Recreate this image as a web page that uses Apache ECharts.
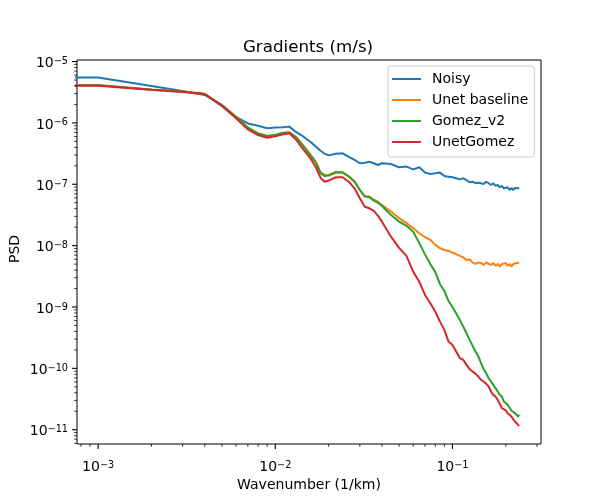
<!DOCTYPE html>
<html>
<head>
<meta charset="utf-8">
<title>Gradients (m/s)</title>
<script src="https://cdn.jsdelivr.net/npm/echarts@6/dist/echarts.min.js"></script>
<style>
html, body { margin: 0; padding: 0; background: #fff; }
#main { width: 600px; height: 500px; }
</style>
</head>
<body>
<div id="main"></div>
<script>
// wavenumber (1/km), shared by all four curves
var wavenumber = [0.0005, 0.001, 0.002, 0.003, 0.004, 0.005, 0.006, 0.007, 0.008, 0.009,
    0.010, 0.011, 0.012, 0.013, 0.014, 0.015, 0.016, 0.017, 0.018, 0.019,
    0.020, 0.022, 0.024, 0.026, 0.028, 0.030, 0.032, 0.034, 0.036, 0.038,
    0.040, 0.045, 0.050, 0.055, 0.060, 0.065, 0.070, 0.075, 0.080, 0.085,
    0.090, 0.095, 0.100, 0.105, 0.110, 0.115, 0.120, 0.125, 0.130, 0.135,
    0.140, 0.145, 0.150, 0.155, 0.160, 0.165, 0.170, 0.175, 0.180, 0.185,
    0.190, 0.195, 0.200, 0.205, 0.210, 0.215, 0.220, 0.225, 0.230, 0.235, 0.238];

var noisy = [5.5e-6, 5.5e-6, 4.0e-6, 3.31e-6, 2.85e-6, 1.96e-6, 1.26e-6, 9.8e-7, 9.0e-7, 8.2e-7,
    8.4e-7, 8.5e-7, 8.7e-7, 7.2e-7, 6.35e-7, 5.47e-7, 4.76e-7, 4.1e-7, 3.52e-7, 3.15e-7,
    2.96e-7, 3.15e-7, 3.2e-7, 2.8e-7, 2.5e-7, 2.2e-7, 2.25e-7, 2.33e-7, 2.2e-7, 2.06e-7,
    2.2e-7, 2.14e-7, 1.89e-7, 1.94e-7, 1.75e-7, 1.89e-7, 1.55e-7, 1.47e-7, 1.51e-7, 1.55e-7,
    1.36e-7, 1.33e-7, 1.3e-7, 1.25e-7, 1.2e-7, 1.25e-7, 1.17e-7, 1.08e-7, 1.1e-7, 1.04e-7,
    1.06e-7, 1.04e-7, 1.01e-7, 1.1e-7, 1.04e-7, 9.75e-8, 1.04e-7, 9.4e-8, 9.75e-8, 8.93e-8,
    9.4e-8, 8.6e-8, 8.3e-8, 8.93e-8, 8.07e-8, 8.7e-8, 8.07e-8, 8.7e-8, 8.3e-8, 8.6e-8, 8.7e-8];

var unetBaseline = [4.15e-6, 4.15e-6, 3.5e-6, 3.24e-6, 2.98e-6, 1.94e-6, 1.26e-6, 8.4e-7, 6.75e-7, 6.15e-7,
    6.4e-7, 6.9e-7, 7.05e-7, 6.0e-7, 4.7e-7, 3.68e-7, 2.88e-7, 2.3e-7, 1.57e-7, 1.42e-7,
    1.42e-7, 1.6e-7, 1.57e-7, 1.36e-7, 1.12e-7, 8.2e-8, 6.4e-8, 6.3e-8, 5.6e-8, 5.2e-8,
    4.6e-8, 3.6e-8, 2.8e-8, 2.33e-8, 1.93e-8, 1.58e-8, 1.37e-8, 1.24e-8, 1.03e-8, 9.1e-9,
    8.5e-9, 8.2e-9, 7.7e-9, 7.3e-9, 6.8e-9, 6.47e-9, 5.85e-9, 5.95e-9, 5.28e-9, 5.04e-9,
    5.34e-9, 5.2e-9, 4.85e-9, 5.34e-9, 5.04e-9, 4.85e-9, 5.2e-9, 4.67e-9, 5.04e-9, 4.55e-9,
    5.0e-9, 4.74e-9, 5.2e-9, 4.67e-9, 5.04e-9, 4.55e-9, 5.0e-9, 4.67e-9, 5.2e-9, 5.34e-9, 5.28e-9];

var gomezV2 = [4.1e-6, 4.1e-6, 3.48e-6, 3.22e-6, 2.96e-6, 1.93e-6, 1.25e-6, 8.36e-7, 6.7e-7, 6.1e-7,
    6.35e-7, 6.85e-7, 7.0e-7, 5.95e-7, 4.65e-7, 3.63e-7, 2.83e-7, 2.2e-7, 1.52e-7, 1.36e-7,
    1.39e-7, 1.55e-7, 1.55e-7, 1.33e-7, 1.1e-7, 8.07e-8, 6.3e-8, 6.14e-8, 5.4e-8, 5.0e-8,
    4.43e-8, 3.16e-8, 2.46e-8, 2.1e-8, 1.69e-8, 1.1e-8, 7.2e-9, 5.0e-9, 3.7e-9, 2.35e-9,
    1.83e-9, 1.25e-9, 1.0e-9, 7.8e-10, 6.17e-10, 4.8e-10, 3.74e-10, 2.91e-10, 2.32e-10, 1.88e-10,
    1.56e-10, 1.22e-10, 9.7e-11, 8.35e-11, 6.9e-11, 6.1e-11, 5.38e-11, 4.76e-11, 4.19e-11, 3.7e-11,
    3.47e-11, 2.88e-11, 2.95e-11, 2.55e-11, 2.4e-11, 2.06e-11, 2.16e-11, 1.86e-11, 1.98e-11, 1.64e-11, 1.76e-11];

var unetGomez = [4.05e-6, 4.05e-6, 3.46e-6, 3.2e-6, 2.95e-6, 1.88e-6, 1.19e-6, 7.87e-7, 6.35e-7, 5.74e-7,
    6.05e-7, 6.5e-7, 6.78e-7, 5.47e-7, 4.1e-7, 3.2e-7, 2.49e-7, 1.86e-7, 1.28e-7, 1.1e-7,
    1.15e-7, 1.3e-7, 1.3e-7, 1.1e-7, 8.6e-8, 5.9e-8, 4.3e-8, 4.06e-8, 3.7e-8, 3.05e-8,
    2.46e-8, 1.4e-8, 9.2e-9, 6.8e-9, 3.77e-9, 2.57e-9, 1.57e-9, 1.15e-9, 8.4e-10, 5.78e-10,
    4.24e-10, 2.73e-10, 2.41e-10, 1.88e-10, 1.47e-10, 1.38e-10, 1.14e-10, 9.7e-11, 8.87e-11, 8.13e-11,
    7.35e-11, 6.5e-11, 6.1e-11, 5.6e-11, 5.06e-11, 4.19e-11, 3.7e-11, 3.47e-11, 3.07e-11, 2.64e-11,
    2.25e-11, 2.4e-11, 2.06e-11, 1.86e-11, 1.98e-11, 1.64e-11, 1.49e-11, 1.36e-11, 1.31e-11, 1.2e-11, 1.15e-11];

var seriesNames = ['Noisy', 'Unet baseline', 'Gomez_v2', 'UnetGomez'];
var seriesColors = ['#1f77b4', '#ff7f0e', '#2ca02c', '#d62728'];

// axis limits and ticks (log axes)
var xMin = 7.6e-4, xMax = 0.316;
var yMin = 5.85e-12, yMax = 1.06e-5;
var xMajorTicks = [1e-3, 1e-2, 1e-1];
var yMajorTicks = [1e-11, 1e-10, 1e-9, 1e-8, 1e-7, 1e-6, 1e-5];
var minorSteps = [2, 3, 4, 5, 6, 7, 8, 9];

var FONT = 'DejaVu Sans';

function minorTicks(decades, lo, hi) {
    var out = [];
    decades.forEach(function (d) {
        minorSteps.forEach(function (m) {
            var v = m * d;
            if (v >= lo && v <= hi) out.push(v);
        });
    });
    return out;
}
var xMinorTicks = minorTicks([1e-4, 1e-3, 1e-2, 1e-1], xMin, xMax);
var yMinorTicks = minorTicks([1e-12, 1e-11, 1e-10, 1e-9, 1e-8, 1e-7, 1e-6, 1e-5], yMin, yMax);

function pairs(xs, ys) {
    var out = [];
    for (var i = 0; i < xs.length; i++) out.push([xs[i], ys[i]]);
    return out;
}

var labelRich = {
    b: { fontSize: 14, fontFamily: FONT, lineHeight: 14, verticalAlign: 'bottom', fill: '#000' },
    s: { fontSize: 9.7, fontFamily: FONT, lineHeight: 10, padding: [0, 0, 8, 0], verticalAlign: 'top', fill: '#000' }
};
function powLabel(v) {
    var e = Math.round(Math.log10(v));
    return '{b|10}{s|' + (e < 0 ? '\u2212' : '') + Math.abs(e) + '}';
}

// tick marks + labels drawn outside the frame, matplotlib style
function xTickItem(params, api) {
    var p = api.coord([api.value(0), yMin]);
    var major = api.value(1) === 1;
    var len = major ? 4.9 : 2.8;
    var kids = [{
        type: 'line',
        shape: { x1: p[0], y1: p[1], x2: p[0], y2: p[1] + len },
        style: { stroke: '#000', lineWidth: major ? 1.1 : 0.8 }
    }];
    if (major) {
        kids.push({
            type: 'text', x: p[0], y: p[1] + 16,
            style: { text: powLabel(api.value(0)), rich: labelRich, align: 'center', verticalAlign: 'top', fill: '#000' }
        });
    }
    return { type: 'group', children: kids };
}
function yTickItem(params, api) {
    var p = api.coord([xMin, api.value(0)]);
    var major = api.value(1) === 1;
    var len = major ? 4.9 : 2.8;
    var kids = [{
        type: 'line',
        shape: { x1: p[0] - len, y1: p[1], x2: p[0], y2: p[1] },
        style: { stroke: '#000', lineWidth: major ? 1.1 : 0.8 }
    }];
    if (major) {
        kids.push({
            type: 'text', x: p[0] - 9, y: p[1] + 2,
            style: { text: powLabel(api.value(0)), rich: labelRich, align: 'right', verticalAlign: 'middle', fill: '#000' }
        });
    }
    return { type: 'group', children: kids };
}

var myChart = echarts.init(document.getElementById('main'), null, { renderer: 'canvas' });

var series = [];
for (var i = 0; i < seriesNames.length; i++) {
    series.push({
        name: seriesNames[i],
        type: 'line',
        data: pairs(wavenumber, [noisy, unetBaseline, gomezV2, unetGomez][i]),
        symbol: 'none',
        showSymbol: false,
        clip: true,
        color: seriesColors[i],
        lineStyle: { width: 2, color: seriesColors[i] },
        z: 2 + i
    });
}
series.push({
    name: 'xticks',
    type: 'custom',
    renderItem: xTickItem,
    data: xMajorTicks.map(function (v) { return [v, 1]; }).concat(xMinorTicks.map(function (v) { return [v, 0]; })),
    encode: { x: 0 },
    clip: false,
    silent: true,
    z: 10
});
series.push({
    name: 'yticks',
    type: 'custom',
    renderItem: yTickItem,
    data: yMajorTicks.map(function (v) { return [v, 1]; }).concat(yMinorTicks.map(function (v) { return [v, 0]; })),
    encode: { y: 0 },
    clip: false,
    silent: true,
    z: 10
});

var option = {
    animation: false,
    backgroundColor: '#fff',
    title: {
        text: 'Gradients (m/s)',
        left: 308,
        top: 39,
        padding: 0,
        textAlign: 'center',
        textStyle: { fontFamily: FONT, fontSize: 16.7, fontWeight: 'normal', color: '#000' }
    },
    legend: {
        data: seriesNames,
        orient: 'vertical',
        left: 388,
        top: 66,
        padding: [6, 6, 8, 4],
        itemGap: 7,
        itemWidth: 29,
        itemHeight: 2,
        icon: 'rect',
        backgroundColor: 'rgba(255,255,255,0.8)',
        borderColor: '#cccccc',
        borderWidth: 1,
        borderRadius: 3,
        textStyle: { fontFamily: FONT, fontSize: 14, color: '#000', lineHeight: 14, padding: [0, 0, 0, 6] }
    },
    grid: {
        left: 75, right: 59, top: 60, bottom: 56,
        show: true,
        borderColor: '#000',
        borderWidth: 1,
        backgroundColor: 'transparent'
    },
    xAxis: {
        type: 'log',
        logBase: 10,
        min: xMin,
        max: xMax,
        name: 'Wavenumber (1/km)',
        nameLocation: 'middle',
        nameGap: 34,
        nameTextStyle: { fontFamily: FONT, fontSize: 14, color: '#000' },
        axisLine: { show: false },
        axisTick: { show: false },
        axisLabel: { show: false },
        splitLine: { show: false }
    },
    yAxis: {
        type: 'log',
        logBase: 10,
        min: yMin,
        max: yMax,
        name: 'PSD',
        nameLocation: 'middle',
        nameGap: 55,
        nameRotate: 90,
        nameTextStyle: { fontFamily: FONT, fontSize: 14, color: '#000', padding: [0, 0, 0, 6] },
        axisLine: { show: false },
        axisTick: { show: false },
        axisLabel: { show: false },
        splitLine: { show: false }
    },
    series: series
};
myChart.setOption(option);
</script>
</body>
</html>
